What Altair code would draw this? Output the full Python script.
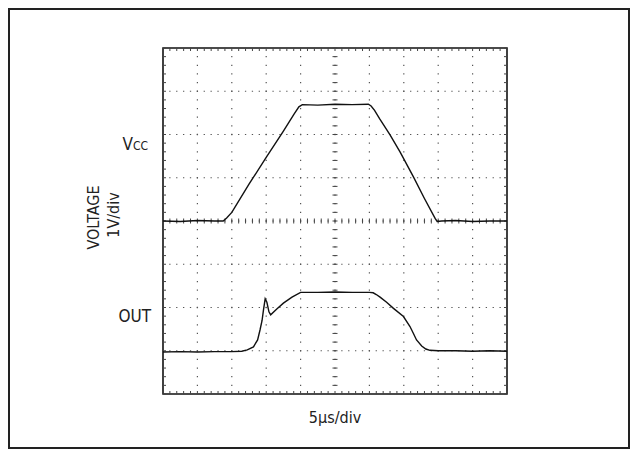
import altair as alt
import pandas as pd

# ---- trace data (divisions: x 0..10, y 0..8) ----
vcc_t = [0, 0.5, 1.0, 1.5, 1.75, 1.85, 2.0, 2.5, 3.0, 3.5, 3.8, 3.95, 4.05, 4.5, 5.0, 5.5,
         5.97, 6.05, 6.15, 6.3, 6.6, 6.89, 7.28, 7.6, 7.91, 7.97, 8.1, 8.5, 9.0, 9.5, 10]
vcc_v = [4.0, 3.99, 4.01, 4.0, 4.0, 4.07, 4.2, 4.85, 5.47, 6.08, 6.46, 6.64, 6.69, 6.68, 6.70, 6.69,
         6.70, 6.66, 6.56, 6.36, 5.99, 5.60, 5.02, 4.52, 4.06, 3.99, 4.0, 4.01, 3.99, 4.0, 4.0]

out_t = [0, 0.5, 1.0, 1.5, 2.0, 2.29, 2.45, 2.63, 2.75, 2.82, 2.88, 2.92, 2.97, 3.02, 3.08, 3.13,
         3.3, 3.5, 3.75, 4.0, 4.5, 5.0, 5.5, 6.0, 6.11, 6.2, 6.31, 6.5, 6.7, 6.99, 7.18, 7.28,
         7.37, 7.52, 7.64, 7.76, 8.0, 8.5, 9.0, 9.5, 10]
out_v = [0.97, 0.98, 0.97, 0.98, 0.98, 0.99, 1.02, 1.09, 1.25, 1.48, 1.7, 1.94, 2.2, 2.12, 1.9, 1.83,
         1.96, 2.1, 2.24, 2.35, 2.35, 2.36, 2.35, 2.35, 2.34, 2.30, 2.24, 2.12, 1.98, 1.79, 1.56, 1.40,
         1.25, 1.11, 1.04, 1.01, 1.0, 1.0, 0.99, 1.0, 0.99]

# ---- graticule ----
grid_x = [1, 2, 3, 4, 5, 6, 7, 8, 9]
grid_y = [1, 2, 3, 4, 5, 6, 7]
minor_x = [i / 5 for i in range(51)]
minor_y = [i / 5 for i in range(41)]

W, H = 344, 346
FONT = "DejaVu Sans Condensed, Roboto, Liberation Sans, sans-serif"
INK = "#222222"

xs = alt.Scale(domain=[0, 10], nice=False, zero=False)
ys = alt.Scale(domain=[0, 8], nice=False, zero=False)

gx = pd.DataFrame({"gx": grid_x})
gy = pd.DataFrame({"gy": grid_y})
mx = pd.DataFrame({"mx": minor_x, "c4": 4, "b0": 0, "t8": 8})
my = pd.DataFrame({"my": minor_y, "c5": 5, "l0": 0, "r10": 10})
one = pd.DataFrame({"a": [0]})

X = lambda f: alt.X(f, scale=xs, axis=None)
Y = lambda f: alt.Y(f, scale=ys, axis=None)

vgrid = alt.Chart(gx).mark_rule(stroke="#555", strokeWidth=1.2, strokeDash=[1.3, 7.35],
                                strokeDashOffset=0.65).encode(x=X("gx:Q"))
hgrid = alt.Chart(gy).mark_rule(stroke="#555", strokeWidth=1.2, strokeDash=[1.3, 5.58],
                                strokeDashOffset=0.65).encode(y=Y("gy:Q"))

# minor ticks on the centre lines
ctick_v = alt.Chart(my).mark_rule(stroke="#444", strokeWidth=1, xOffset=-2.5, x2Offset=2.5).encode(
    y=Y("my:Q"), x=X("c5:Q"), x2="c5:Q")
ctick_h = alt.Chart(mx).mark_rule(stroke="#444", strokeWidth=1, yOffset=-2.5, y2Offset=2.5).encode(
    x=X("mx:Q"), y=Y("c4:Q"), y2="c4:Q")

# inward ticks on the frame
t_left = alt.Chart(my).mark_rule(stroke="#444", strokeWidth=1, x2Offset=3).encode(
    y=Y("my:Q"), x=X("l0:Q"), x2="l0:Q")
t_right = alt.Chart(my).mark_rule(stroke="#444", strokeWidth=1, xOffset=-3).encode(
    y=Y("my:Q"), x=X("r10:Q"), x2="r10:Q")
t_top = alt.Chart(mx).mark_rule(stroke="#444", strokeWidth=1, y2Offset=3).encode(
    x=X("mx:Q"), y=Y("t8:Q"), y2="t8:Q")
t_bot = alt.Chart(mx).mark_rule(stroke="#444", strokeWidth=1, yOffset=-3).encode(
    x=X("mx:Q"), y=Y("b0:Q"), y2="b0:Q")

vcc_line = alt.Chart(pd.DataFrame({"t": vcc_t, "v": vcc_v})).mark_line(
    color="#111", strokeWidth=1.4).encode(x=X("t:Q"), y=Y("v:Q"))
out_line = alt.Chart(pd.DataFrame({"t": out_t, "v": out_v})).mark_line(
    color="#111", strokeWidth=1.4).encode(x=X("t:Q"), y=Y("v:Q"))

def label(text, x, y, size=16, align="left", baseline="alphabetic", angle=0):
    return alt.Chart(one).mark_text(text=text, font=FONT, fontSize=size, color=INK,
                                    align=align, baseline=baseline, angle=angle).encode(
        x=alt.value(x), y=alt.value(y))

lab_v = label("V", -30, 102, 17, align="right")
lab_cc = label("CC", -15, 102, 12, align="right")
lab_out = label("OUT", -12, 274, 17, align="right")
lab_volt = label("VOLTAGE", -69, 169.5, 16, align="center", baseline="middle", angle=270)
lab_div = label("1V/div", -49, 167, 16, align="center", baseline="middle", angle=270)
lab_time = label("5\u03bcs/div", 172, 369.5, 16, align="center", baseline="middle")

frame = alt.Chart(one).mark_rect(fillOpacity=0, stroke=INK, strokeWidth=2).encode(
    x=alt.value(-154), x2=alt.value(466), y=alt.value(-39), y2=alt.value(400))

chart = alt.layer(
    frame, vgrid, hgrid, ctick_v, ctick_h, t_left, t_right, t_top, t_bot,
    vcc_line, out_line, lab_v, lab_cc, lab_out, lab_volt, lab_div, lab_time
).properties(
    width=W, height=H, autosize="none",
    padding={"left": 155, "top": 40, "right": 123, "bottom": 55},
    background="white",
).configure_view(stroke="#111", strokeWidth=1.6)

chart.save("out.html", embed_options={"renderer": "svg", "actions": False})
